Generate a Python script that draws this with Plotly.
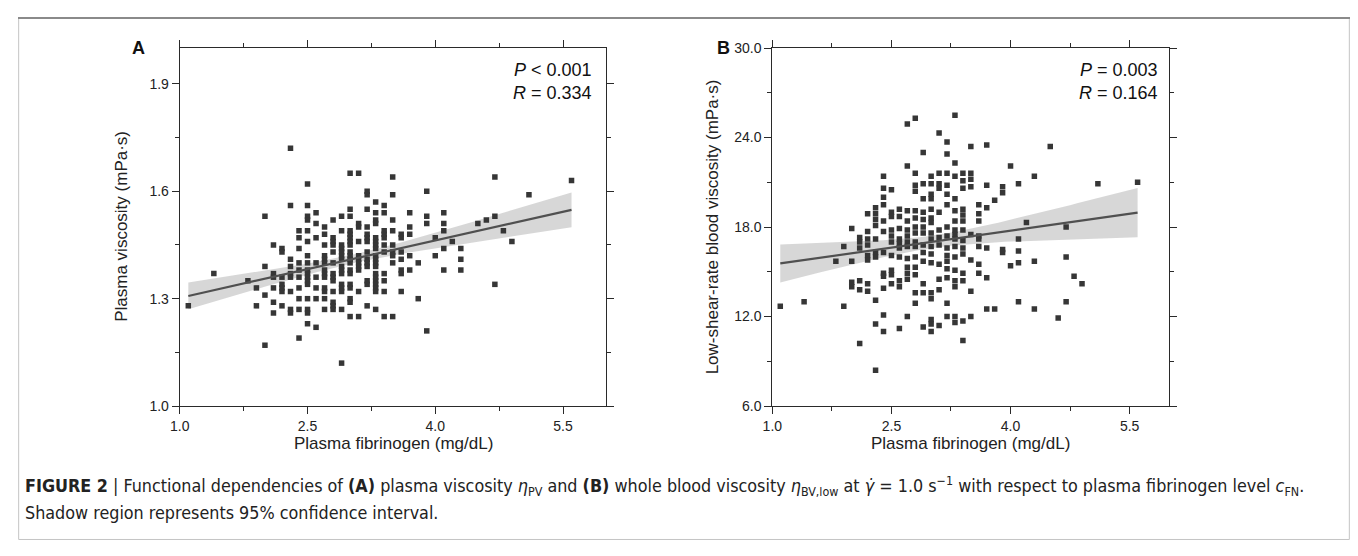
import numpy as np
import plotly.graph_objects as go

# ---------------- data ----------------
# Panel A: plasma fibrinogen column values and plasma viscosity values in each column
fib_cols_A = [1.1, 1.4, 1.8, 1.9, 2.0, 2.1, 2.2, 2.3, 2.4, 2.5, 2.6, 2.7, 2.8, 2.9, 3.0,
              3.1, 3.2, 3.3, 3.4, 3.5, 3.6, 3.7, 3.8, 3.9, 4.0, 4.1, 4.2, 4.3, 4.5, 4.6,
              4.7, 4.8, 4.9, 5.1, 5.6]
pv_by_col = [
    [1.28],
    [1.37],
    [1.35],
    [1.33, 1.28],
    [1.53, 1.39, 1.31, 1.17],
    [1.45, 1.37, 1.36, 1.33, 1.29, 1.26],
    [1.44, 1.43, 1.36, 1.34, 1.33, 1.32, 1.28],
    [1.72, 1.56, 1.41, 1.39, 1.37, 1.36, 1.32, 1.27, 1.26],
    [1.49, 1.47, 1.44, 1.40, 1.38, 1.36, 1.33, 1.30, 1.27, 1.19],
    [1.62, 1.56, 1.53, 1.52, 1.49, 1.46, 1.42, 1.40, 1.38, 1.37, 1.36, 1.35, 1.34, 1.30, 1.27, 1.26, 1.23],
    [1.54, 1.51, 1.47, 1.40, 1.36, 1.33, 1.30, 1.22],
    [1.50, 1.48, 1.45, 1.42, 1.41, 1.40, 1.38, 1.37, 1.36, 1.33, 1.32, 1.30, 1.27],
    [1.52, 1.47, 1.46, 1.45, 1.43, 1.40, 1.37, 1.36, 1.35, 1.32, 1.29, 1.28, 1.27],
    [1.53, 1.49, 1.45, 1.44, 1.43, 1.42, 1.41, 1.39, 1.38, 1.37, 1.34, 1.33, 1.32, 1.27, 1.12],
    [1.65, 1.55, 1.53, 1.49, 1.48, 1.47, 1.46, 1.45, 1.43, 1.42, 1.41, 1.40, 1.38, 1.37, 1.34, 1.33, 1.30, 1.29, 1.25],
    [1.65, 1.51, 1.50, 1.46, 1.42, 1.41, 1.40, 1.39, 1.38, 1.32, 1.25],
    [1.60, 1.59, 1.55, 1.50, 1.48, 1.47, 1.46, 1.43, 1.41, 1.40, 1.39, 1.35, 1.34, 1.28],
    [1.57, 1.54, 1.52, 1.51, 1.47, 1.46, 1.45, 1.44, 1.42, 1.41, 1.40, 1.39, 1.37, 1.36, 1.35, 1.34, 1.33, 1.32, 1.27],
    [1.56, 1.54, 1.49, 1.48, 1.47, 1.45, 1.43, 1.37, 1.35, 1.32, 1.25],
    [1.64, 1.59, 1.52, 1.49, 1.45, 1.43, 1.42, 1.40, 1.25],
    [1.48, 1.47, 1.43, 1.41, 1.38, 1.37, 1.32],
    [1.54, 1.50, 1.48, 1.42, 1.38],
    [1.40, 1.30],
    [1.60, 1.53, 1.51, 1.21],
    [1.47, 1.42],
    [1.54, 1.51, 1.49, 1.44, 1.38],
    [1.46],
    [1.44, 1.41, 1.38],
    [1.51],
    [1.52],
    [1.64, 1.53, 1.34],
    [1.49],
    [1.46],
    [1.59],
    [1.63],
]

# Panel B: plasma fibrinogen column values and low-shear-rate blood viscosity in each column
fib_cols_B = [1.1, 1.4, 1.8, 1.9, 2.0, 2.1, 2.2, 2.3, 2.4, 2.5, 2.6, 2.7, 2.8, 2.9, 3.0,
              3.1, 3.2, 3.3, 3.4, 3.5, 3.6, 3.7, 3.8, 3.9, 4.0, 4.1, 4.2, 4.3, 4.5, 4.6,
              4.7, 4.8, 4.9, 5.1, 5.6]
bv_by_col = [
    [12.7],
    [13.0],
    [15.7],
    [16.7, 12.7],
    [17.9, 15.7, 14.3, 14.0],
    [17.3, 17.0, 16.6, 14.4, 13.8, 10.2],
    [18.9, 17.7, 17.2, 16.8, 16.1, 15.8, 14.2, 13.7],
    [19.3, 18.9, 18.5, 18.1, 17.2, 16.3, 16.0, 13.1, 11.5, 8.4],
    [21.4, 20.6, 20.0, 19.5, 18.4, 17.7, 16.3, 14.9, 14.7, 13.9, 12.1, 11.0],
    [20.5, 19.0, 18.7, 17.8, 17.4, 17.0, 16.1, 15.1, 14.8, 14.2],
    [19.2, 18.7, 17.9, 17.2, 16.9, 16.6, 16.0, 14.4, 14.0, 11.2],
    [24.9, 22.1, 19.1, 18.4, 17.8, 17.4, 17.0, 16.7, 15.9, 15.3, 14.9, 14.5, 12.0],
    [25.3, 21.6, 20.8, 20.4, 19.1, 18.6, 18.0, 17.6, 17.0, 16.7, 16.0, 15.3, 14.8, 13.6, 12.9],
    [23.0, 20.9, 19.9, 19.0, 18.5, 18.0, 17.6, 16.8, 16.3, 15.7, 14.2, 13.6, 11.3],
    [21.4, 20.9, 20.2, 19.9, 19.2, 18.6, 18.3, 17.6, 17.2, 16.7, 16.2, 15.6, 13.6, 13.2, 11.8, 11.5, 11.0],
    [24.3, 21.6, 20.9, 20.6, 19.0, 17.8, 17.3, 16.8, 15.5, 14.5, 13.8, 11.4],
    [23.7, 22.9, 21.6, 20.8, 20.2, 19.5, 18.0, 17.4, 16.6, 16.1, 15.7, 15.2, 14.6, 12.9, 12.0],
    [25.5, 22.3, 21.4, 19.9, 19.1, 18.4, 17.8, 17.5, 17.2, 16.7, 16.0, 15.1, 14.4, 14.0, 12.0, 11.6],
    [21.6, 21.1, 20.6, 19.2, 18.8, 18.4, 17.8, 17.1, 16.6, 16.2, 14.9, 14.4, 11.7, 10.4],
    [23.4, 21.6, 21.2, 20.7, 17.5, 15.8, 13.7, 12.0],
    [19.5, 18.9, 18.4, 17.4, 17.2, 16.7, 15.5, 14.9],
    [23.5, 20.8, 19.3, 16.6, 14.6, 12.5],
    [19.8, 12.5],
    [20.7, 20.3, 16.5, 16.3],
    [22.1, 15.4],
    [20.9, 17.2, 16.4, 15.6, 13.0],
    [18.3],
    [21.4, 15.7, 12.5],
    [23.4],
    [11.9],
    [18.0, 16.0, 13.0],
    [14.7],
    [14.2],
    [20.9],
    [21.0],
]

stats_A = ["<i>P</i> < 0.001", "<i>R</i> = 0.334"]
stats_B = ["<i>P</i> = 0.003", "<i>R</i> = 0.164"]

x_ticks = [1.0, 2.5, 4.0, 5.5]
yA_ticks = [1.0, 1.3, 1.6, 1.9]
yB_ticks = [6.0, 12.0, 18.0, 24.0, 30.0]

# ---------------- helpers ----------------
# The page body keeps its default 8 px margin, so the figure is 16 px smaller than the
# window and positions (given in window pixels) are shifted by that margin.
WIN_W, WIN_H = 1358, 556
OFF = 8
W, H = WIN_W - 2 * OFF, WIN_H - 2 * OFF


def px(x):
    return (x - OFF) / W


def py(y):
    return 1 - (y - OFF) / H


def expand(cols, by_col):
    xs, ys = [], []
    for c, vals in zip(cols, by_col):
        for v in vals:
            xs.append(c)
            ys.append(v)
    return np.array(xs), np.array(ys)


def fit_band(x, y, xgrid):
    n = len(x)
    b, a = np.polyfit(x, y, 1)
    yhat = a + b * x
    s = np.sqrt(np.sum((y - yhat) ** 2) / (n - 2))
    sxx = np.sum((x - x.mean()) ** 2)
    se = s * np.sqrt(1.0 / n + (xgrid - x.mean()) ** 2 / sxx)
    yg = a + b * xgrid
    return yg, yg - 1.97 * se, yg + 1.97 * se


xA, yA = expand(fib_cols_A, pv_by_col)
xB, yB = expand(fib_cols_B, bv_by_col)

MARK = "#363636"
LINE = "#505050"
BAND = "rgba(205,205,205,0.8)"

fig = go.Figure()

for (xs, ys, xa, ya) in [(xA, yA, "x", "y"), (xB, yB, "x2", "y2")]:
    g = np.linspace(xs.min(), xs.max(), 60)
    yg, lo, hi = fit_band(xs, ys, g)
    fig.add_trace(go.Scatter(x=np.concatenate([g, g[::-1]]), y=np.concatenate([hi, lo[::-1]]),
                             fill="toself", fillcolor=BAND, line=dict(width=0),
                             mode="lines", hoverinfo="skip", showlegend=False,
                             xaxis=xa, yaxis=ya))
    fig.add_trace(go.Scatter(x=xs, y=ys, mode="markers",
                             marker=dict(symbol="square", size=5.5, color=MARK, line=dict(width=0)),
                             showlegend=False, xaxis=xa, yaxis=ya))
    fig.add_trace(go.Scatter(x=g, y=yg, mode="lines", line=dict(color=LINE, width=2.2),
                             showlegend=False, xaxis=xa, yaxis=ya))

FONT = "Liberation Sans, Arial, sans-serif"
axis_common = dict(showline=True, linecolor="#2a2a2a", linewidth=1.2, mirror="allticks",
                   ticks="outside", ticklen=7, tickwidth=1.2, tickcolor="#2a2a2a",
                   showgrid=False, zeroline=False,
                   tickfont=dict(family=FONT, size=14, color="#222222"))

yd = [py(410), py(41)]
fig.update_layout(
    width=W, height=H, margin=dict(l=0, r=0, t=0, b=0),
    paper_bgcolor="white", plot_bgcolor="white",
    xaxis=dict(domain=[px(171), px(600)], range=[1.0, 6.0], tickvals=x_ticks,
               tickformat=".1f", anchor="y",
               minor=dict(dtick=0.75, tick0=1.0, ticklen=4, tickcolor="#2a2a2a", ticks="outside"),
               **axis_common),
    yaxis=dict(domain=yd, range=[1.0, 2.0], tickvals=yA_ticks, tickformat=".1f", anchor="x",
               minor=dict(dtick=0.15, tick0=1.0, ticklen=4, tickcolor="#2a2a2a", ticks="outside"),
               **axis_common),
    xaxis2=dict(domain=[px(768), px(1168)], range=[1.0, 6.0], tickvals=x_ticks,
                tickformat=".1f", anchor="y2",
                minor=dict(dtick=0.75, tick0=1.0, ticklen=4, tickcolor="#2a2a2a", ticks="outside"),
                **axis_common),
    yaxis2=dict(domain=yd, range=[6.0, 30.0], tickvals=yB_ticks, tickformat=".1f", anchor="x2",
                minor=dict(dtick=3, tick0=6, ticklen=4, tickcolor="#2a2a2a", ticks="outside"),
                **axis_common),
)

ann = []
title_font = dict(family=FONT, size=17, color="#222222")
# axis titles
ann.append(dict(x=px(386), y=py(449), text="Plasma fibrinogen (mg/dL)", font=title_font))
ann.append(dict(x=px(968), y=py(449), text="Plasma fibrinogen (mg/dL)", font=title_font))
ann.append(dict(x=px(112), y=py(225), text="Plasma viscosity (mPa·s)", textangle=-90, font=title_font))
ann.append(dict(x=px(708), y=py(225), text="Low-shear-rate blood viscosity (mPa·s)", textangle=-90,
                font=title_font))
# panel letters
ann.append(dict(x=px(129), y=py(41), text="<b>A</b>", font=dict(family=FONT, size=18, color="#111111")))
ann.append(dict(x=px(719), y=py(41), text="<b>B</b>", font=dict(family=FONT, size=18, color="#111111")))
# statistics
for i, t in enumerate(stats_A):
    ann.append(dict(x=px(588), y=py(64 + 23 * i), text=t, xanchor="right",
                    font=dict(family=FONT, size=18, color="#111111")))
for i, t in enumerate(stats_B):
    ann.append(dict(x=px(1159), y=py(64 + 23 * i), text=t, xanchor="right",
                    font=dict(family=FONT, size=18, color="#111111")))
# caption
CAP = "Liberation Sans Narrow, DejaVu Sans Condensed, Arial Narrow, sans-serif"
cap1 = ("<b>FIGURE 2</b> | Functional dependencies of <b>(A)</b> plasma viscosity <i>η</i><sub>PV</sub> "
        "and <b>(B)</b> whole blood viscosity <i>η</i><sub>BV,low</sub> at <i>γ̇</i> = 1.0 s<sup>−1</sup> "
        "with respect to plasma fibrinogen level <i>c</i><sub>FN</sub>.")
cap2 = "Shadow region represents 95% confidence interval."
ann.append(dict(x=px(13), y=py(492), text=cap1, xanchor="left",
                font=dict(family=CAP, size=17.8, color="#222222")))
ann.append(dict(x=px(13), y=py(520), text=cap2, xanchor="left",
                font=dict(family=CAP, size=17.8, color="#222222")))
for a in ann:
    a.setdefault("xref", "paper")
    a.setdefault("yref", "paper")
    a.setdefault("showarrow", False)
    a.setdefault("xanchor", "center")
    a.setdefault("yanchor", "middle")
fig.update_layout(annotations=ann)

# figure frame
fig.update_layout(shapes=[
    dict(type="rect", xref="paper", yref="paper", x0=0.0005, x1=0.9995, y0=0.001, y1=py(10),
         line=dict(color="#c4c4c4", width=1)),
    dict(type="line", xref="paper", yref="paper", x0=0, x1=1, y0=py(10), y1=py(10),
         line=dict(color="#8a8a8a", width=2)),
])

fig.write_html("out.html", config={"displayModeBar": False})
